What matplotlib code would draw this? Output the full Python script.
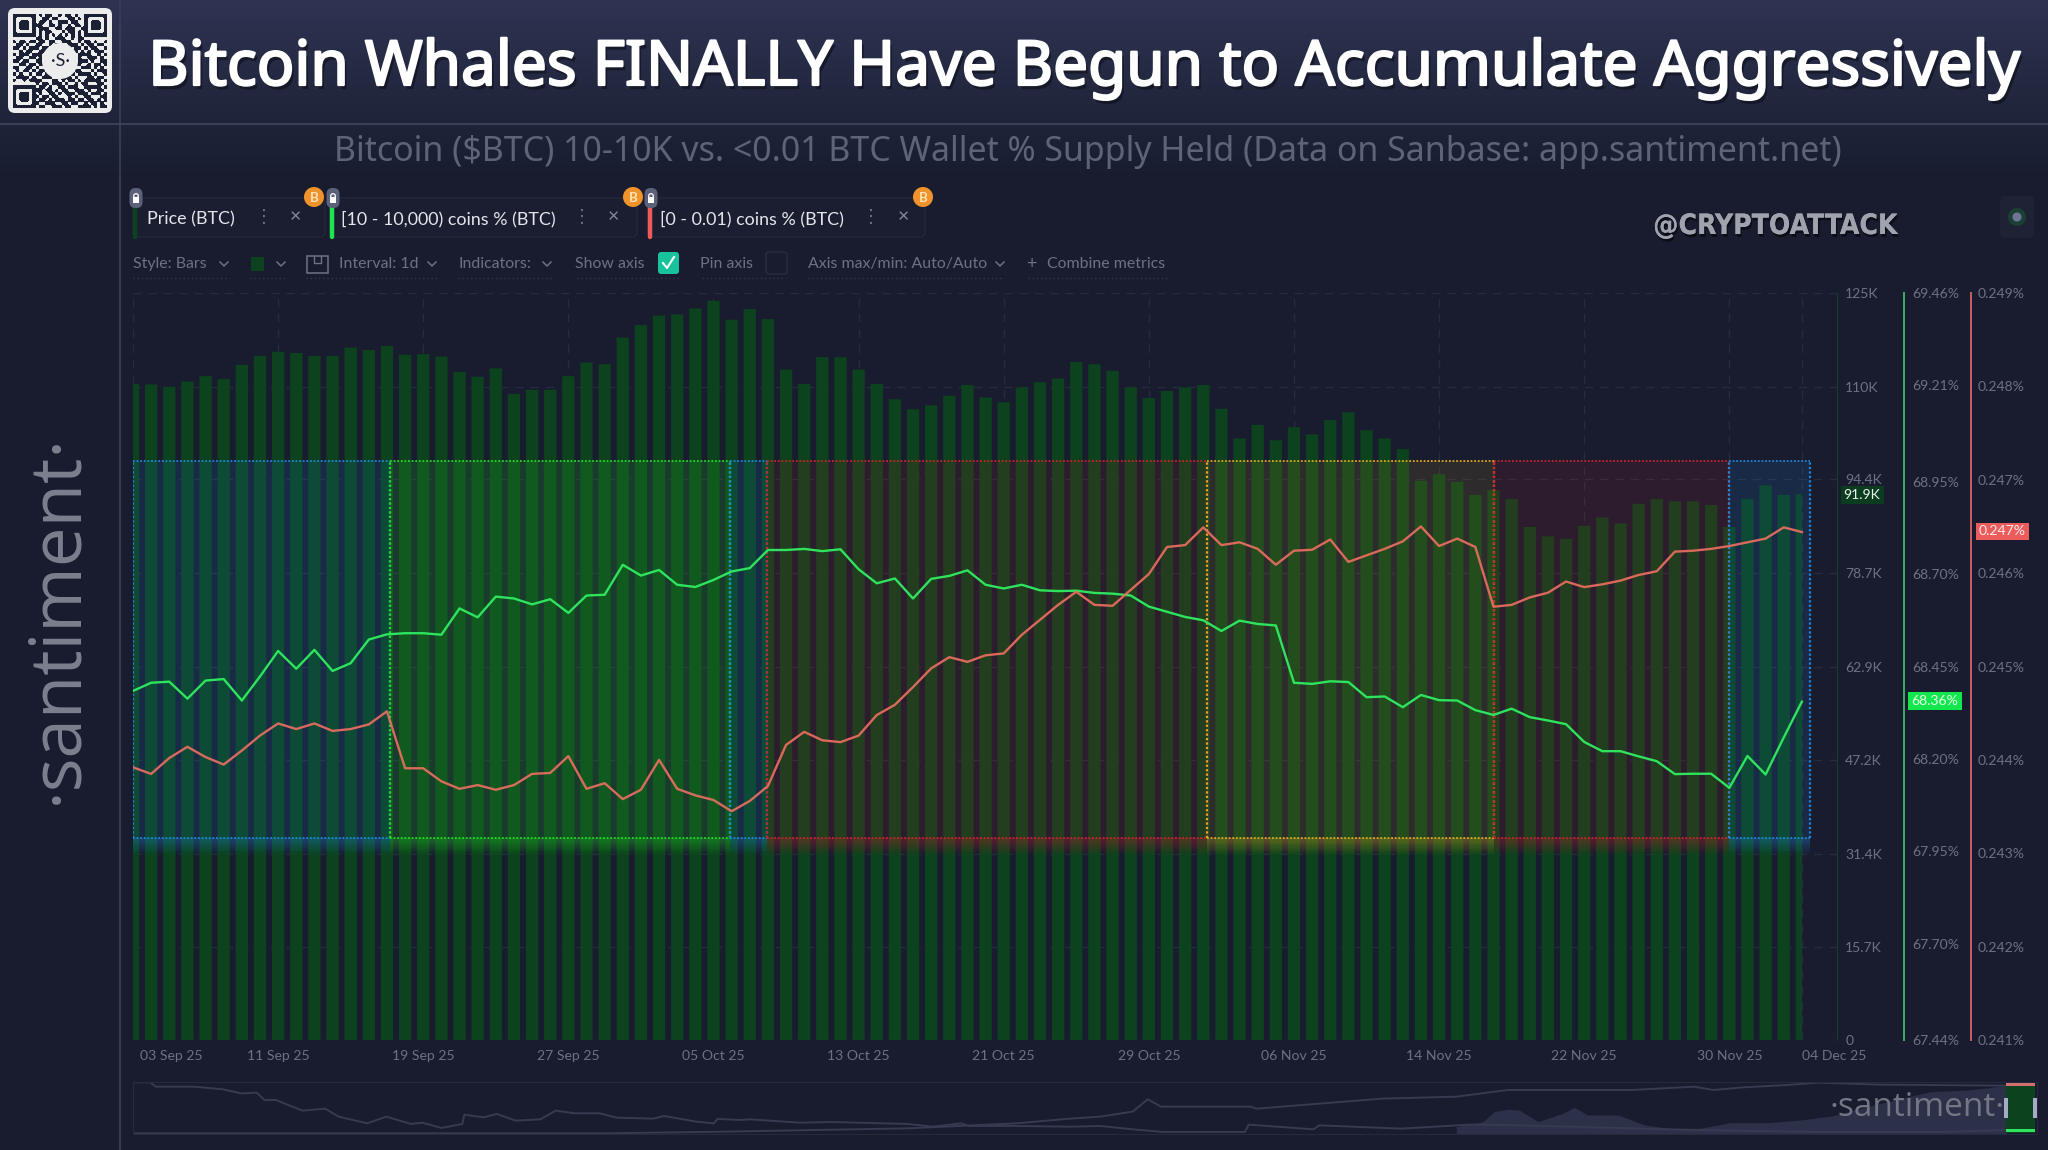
"""
santiment chart: bitcoin whales vs small wallets
"""
import numpy as np
import matplotlib
matplotlib.use('Agg')
import matplotlib.pyplot as plt
import matplotlib.patheffects as pe
from matplotlib.patches import Rectangle, Circle, FancyBboxPatch
from matplotlib.transforms import ScaledTranslation

plt.rcParams['font.family'] = ['Lato', 'DejaVu Sans']

# daily price, thousand dollars, 3 Sep to 4 Dec 2025
price = [110.5, 110.4, 110.0, 110.9, 111.8, 111.3, 113.7, 115.2, 115.9, 115.7,
         115.2, 115.2, 116.6, 116.2, 116.9, 115.4, 115.5, 115.1, 112.5, 111.7,
         113.1, 108.8, 109.5, 109.5, 111.8, 114.1, 113.8, 118.3, 120.4, 122.0,
         122.2, 123.2, 124.5, 121.3, 123.1, 121.4, 112.9, 110.5, 115.0, 115.0,
         112.9, 110.5, 107.9, 106.2, 106.9, 108.5, 110.3, 108.2, 107.4, 109.9,
         110.8, 111.4, 114.2, 113.8, 112.7, 109.9, 108.1, 109.3, 109.9, 110.3,
         106.3, 101.3, 103.6, 101.0, 103.2, 102.0, 104.4, 105.7, 102.7, 101.3,
         99.5, 94.2, 95.3, 94.0, 91.8, 92.6, 91.1, 86.4, 84.8, 84.4,
         86.6, 88.0, 87.0, 90.3, 91.1, 90.7, 90.7, 90.1, 86.4, 91.1,
         93.4, 91.8, 91.9]

# 10 - 10,000 coins, % of supply
whales = [68.384, 68.406, 68.409, 68.363, 68.412, 68.416, 68.358, 68.423, 68.492, 68.444,
          68.495, 68.438, 68.459, 68.523, 68.537, 68.540, 68.540, 68.536, 68.607, 68.583,
          68.639, 68.634, 68.618, 68.632, 68.595, 68.642, 68.644, 68.725, 68.696, 68.711,
          68.671, 68.665, 68.684, 68.707, 68.716, 68.765, 68.765, 68.768, 68.762, 68.767,
          68.713, 68.675, 68.688, 68.634, 68.687, 68.695, 68.710, 68.671, 68.661, 68.671,
          68.656, 68.654, 68.655, 68.649, 68.647, 68.642, 68.612, 68.598, 68.584, 68.575,
          68.546, 68.574, 68.565, 68.561, 68.406, 68.403, 68.410, 68.408, 68.367, 68.369,
          68.340, 68.373, 68.359, 68.358, 68.332, 68.319, 68.336, 68.313, 68.304, 68.294,
          68.246, 68.221, 68.221, 68.207, 68.194, 68.159, 68.160, 68.160, 68.122, 68.208,
          68.158, 68.258, 68.355]

# 0 - 0.01 coins, % of supply
shrimps = [0.24392, 0.24385, 0.24402, 0.24414, 0.24403, 0.24395, 0.24410, 0.24426, 0.24439, 0.24433,
           0.24439, 0.24431, 0.24433, 0.24438, 0.24452, 0.24391, 0.24391, 0.24377, 0.24369, 0.24373,
           0.24368, 0.24373, 0.24385, 0.24386, 0.24404, 0.24369, 0.24375, 0.24358, 0.24368, 0.24400,
           0.24369, 0.24362, 0.24357, 0.24345, 0.24356, 0.24372, 0.24416, 0.24430, 0.24421, 0.24419,
           0.24426, 0.24448, 0.24459, 0.24478, 0.24498, 0.24510, 0.24505, 0.24512, 0.24514, 0.24534,
           0.24550, 0.24566, 0.24580, 0.24566, 0.24565, 0.24582, 0.24599, 0.24628, 0.24630, 0.24649,
           0.24630, 0.24633, 0.24626, 0.24609, 0.24624, 0.24625, 0.24636, 0.24612, 0.24619, 0.24626,
           0.24634, 0.24650, 0.24629, 0.24637, 0.24628, 0.24564, 0.24566, 0.24574, 0.24579, 0.24591,
           0.24585, 0.24588, 0.24592, 0.24598, 0.24602, 0.24623, 0.24624, 0.24626, 0.24629, 0.24633,
           0.24637, 0.24649, 0.24644]

last_labels = ['91.9K', '68.36%', '0.247%']

date_days = [0, 8, 16, 24, 32, 40, 48, 56, 64, 72, 80, 88, 92]
date_labels = ['03 Sep 25', '11 Sep 25', '19 Sep 25', '27 Sep 25', '05 Oct 25', '13 Oct 25',
               '21 Oct 25', '29 Oct 25', '06 Nov 25', '14 Nov 25', '22 Nov 25', '30 Nov 25',
               '04 Dec 25']
price_ticks = [0, 15.7, 31.4, 47.2, 62.9, 78.7, 94.4, 110, 125.8]
price_labels = ['0', '15.7K', '31.4K', '47.2K', '62.9K', '78.7K', '94.4K', '110K', '125K']
whale_ticks = [67.44, 67.70, 67.95, 68.20, 68.45, 68.70, 68.95, 69.21, 69.46]
shrimp_ticks = [0.241, 0.242, 0.243, 0.244, 0.245, 0.246, 0.247, 0.248, 0.249]

# highlighted stretches: start day, end day, colour
region_start = [0, 14.15, 32.9, 34.95, 59.2, 75, 88]
region_end = [14.15, 32.9, 34.95, 59.2, 75, 88, 92.45]
region_color = ['#1f86d8', '#25d82a', '#1f86d8', '#c8232d', '#dfa820', '#c8232d', '#1f86d8']
region_alpha = [0.14, 0.16, 0.14, 0.12, 0.11, 0.12, 0.14]

# navigator lines, % of the strip both ways
nav_t1 = [0.1, 0.9, 1.2, 3.2, 4.7, 5.7, 6.5, 6.9, 7.5, 8.9, 10.1, 10.8, 12.3, 13.3, 14.6, 15.2,
          16.2, 17.3, 17.4, 18.4, 19.1, 20.1, 21.4, 22.2, 23.2, 24.5, 25.4, 27.3, 27.9, 29.6,
          30.5, 30.7, 31.9, 32.4, 35.0, 36.7, 40.7, 42.0, 43.5, 43.9, 46.4, 49.2, 50.8, 52.5,
          54.1, 58.4, 58.6, 62.0, 62.3, 66.6, 70.2, 72.2, 78.7, 82.0, 88.5, 95.1, 98.4]
nav_v1 = [99.4, 99.4, 91, 91, 86, 78, 79.5, 65.4, 65.4, 44.9, 48.7, 33.4, 20.5, 33.4, 19.3, 21.8,
          11.6, 19.3, 37.2, 32, 38.5, 25.7, 28.2, 44.9, 39.8, 39.8, 31.4, 29.5, 34.6, 23.7,
          20.5, 28.9, 27, 28.2, 21.8, 23.1, 19.3, 14.1, 20.5, 15.4, 15.4, 14.1, 15.4, 9,
          3.9, 3.9, 18, 9, 16.7, 10.3, 18, 17.3, 10.9, 7.7, 3.9, 3.9, 7.7]
nav_t2 = [0.1, 24.8, 31.1, 40.7, 46.4, 49.2, 50.8, 52.5, 53.3, 54.0, 58.7, 59.0, 65.6, 69.5,
          72.2, 78.7, 82.0, 83.0, 84.6, 86.9, 88.5, 91.8, 98.4]
nav_v2 = [1.3, 1.3, 4.5, 10.9, 20.5, 29.5, 33.4, 43, 66.7, 52.6, 52.6, 48.7, 68, 71.8,
          84.6, 84.6, 91, 84.6, 89.8, 94.3, 98.7, 94.9, 93]
nav_t3 = [69.5, 70.9, 71.5, 72.2, 72.8, 73.8, 75.1, 75.7, 76.4, 78.0, 79.4, 80.7, 82.3, 83.9,
          85.9, 87.6, 89.2, 91.8, 94.4, 96.4, 98.4]
nav_v3 = [14.1, 23.7, 43, 47.5, 46.2, 23.7, 39.8, 51.3, 36.6, 36.6, 17.3, 10.9, 10.9, 21.8,
          21.8, 27, 34.6, 59, 81.4, 84.6, 93]

qr_rows = ['11111110101100101101001111111', '10000010011011000110101000001',
           '10111010110100111011001011101', '10111011100110100101101011101',
           '10111010111001101110011011101', '10000010101100010110101000001',
           '11111110101010101010101111111', '00000001101001110010110000000',
           '10110110110110011100101101001', '01101001100101100111010110110',
           '11010111011000000101101011001', '00101100110000000011010101110',
           '10111011100000000000111100101', '01100110100000000000100111010',
           '11011001100000000000111010011', '00110110110000000001100101101',
           '11001101001000000010011101010', '01011010110110001101100010111',
           '10100101101011010010111101001', '01111010011100111101000110110',
           '10010111100011010110101111101', '00000001011011101001011000110',
           '11111110110100110111001111101', '10000011101101011001110100110',
           '10111010100110101110111011101', '10111011011011000101001100011',
           '10111010110101110110110110101', '10000011001110011011001011010',
           '11111110110011101100111101011']

BG = '#181c2e'
TXT = '#6c7183'
W, H = 2048, 1150
CX0, CX1, CY0, CY1 = 133, 1837, 293, 1040
PX_PER_DAY = 18.14


def chevron(ax, x, y, size=4, color='#6c7183'):
    ax.plot([x - size, x, x + size], [y - size / 2, y + size / 2, y - size / 2],
            color=color, lw=1.1)


def dotted(ax, x0, x1, y):
    ax.plot([x0, x1], [y, y], color='#33384c', lw=1, ls=(0, (1, 2)))


def lock(ax, x, y):
    ax.add_patch(FancyBboxPatch((x - 6.5, y - 10), 13, 20, boxstyle='round,pad=0,rounding_size=6',
                                fc='#5b6178', ec='none', zorder=3))
    ax.add_patch(Rectangle((x - 3, y - 1), 6, 6, fc='white', ec='none', zorder=3))
    ax.add_patch(Circle((x, y - 2), 2.3, fc='none', ec='white', lw=0.9, zorder=3))


def coin(ax, x, y):
    ax.add_patch(Circle((x, y), 10, fc='#f0932b', ec='none', zorder=3))
    ax.text(x, y + 0.5, 'B', color='#fde3b8', fontsize=9.5, fontweight='bold', ha='center', va='center', zorder=4)


def chip(ax, x0, x1, label, text_x, dots_x, cross_x, coin_x, bar_color):
    ax.add_patch(FancyBboxPatch((x0, 198), x1 - x0, 39, boxstyle='round,pad=0,rounding_size=5',
                                fc='#1a1e30', ec='#23283b', lw=1))
    ax.plot([x0 + 2, x0 + 2], [205, 237], color=bar_color, lw=3.2, solid_capstyle='round')
    lock(ax, x0 + 3, 198)
    ax.text(text_x, 219, label, color='#e4e6ec', fontsize=12.9, va='center')
    ax.text(dots_x, 217, '⋮', color='#6c7183', fontsize=13, ha='center', va='center', family='DejaVu Sans')
    ax.text(cross_x, 217, '×', color='#8a8fa0', fontsize=14, ha='center', va='center')
    coin(ax, coin_x, 197)


fig = plt.figure(figsize=(W / 100, H / 100), dpi=100)
fig.patch.set_facecolor(BG)

# background gradient of the header
under = fig.add_axes([0, 0, 1, 1], zorder=0)
under.axis('off')
grad = np.linspace(0, 1, 180).reshape(-1, 1)
top_col = np.array([0x2e, 0x34, 0x52]) / 255
low_col = np.array([0x18, 0x1c, 0x2e]) / 255
under.imshow(top_col + (low_col - top_col) * grad[:, :, None], extent=[0, W, 180, 0], aspect='auto')
under.set_xlim(0, W)
under.set_ylim(H, 0)

# main chart
ax = fig.add_axes([CX0 / W, 1 - CY1 / H, (CX1 - CX0) / W, (CY1 - CY0) / H], zorder=1)
ax.patch.set_alpha(0)
days = np.arange(len(price))
xmax = (CX1 - CX0) / PX_PER_DAY
ax.set_xlim(0, xmax)
ax.set_ylim(0, 125.8)
ax.grid(True, color='#272b3e', lw=1, ls=(0, (6, 5)), zorder=0)
ax.set_axisbelow(True)
bars = ax.bar(days, price, width=0.68, color='#0c421d', zorder=2)
keep = Rectangle((0, 0), 92, 125.8, transform=ax.transData)
for b in bars:
    b.set_clip_path(keep)
    b.set_snap(False)

box_lo, box_hi = 34.0, 97.5
for s, e, c, a in zip(region_start, region_end, region_color, region_alpha):
    ax.add_patch(Rectangle((s, box_lo), e - s, box_hi - box_lo, fc=c, alpha=a, ec='none', zorder=3))
    # soft glow under each box
    for g in range(14):
        ax.add_patch(Rectangle((s, box_lo - 0.2 * (g + 1)), e - s, 0.2, fc=c, ec='none',
                               alpha=0.36 * (1 - g / 14), zorder=3))
    ax.plot([s, e], [box_hi, box_hi], color=c, lw=1.3, ls=(0, (1, 1)), zorder=4)
    ax.plot([s, e], [box_lo, box_lo], color=c, lw=1.3, ls=(0, (1, 1)), zorder=4)
    ax.plot([s, s], [box_lo, box_hi], color=c, lw=1.6, ls=(0, (1, 1)), zorder=4)
    ax.plot([e, e], [box_lo, box_hi], color=c, lw=1.6, ls=(0, (1, 1)), zorder=4)

ax.set_xticks(date_days, date_labels)
ax.set_yticks(price_ticks, price_labels)
ax.tick_params(axis='x', length=0, pad=7, labelsize=10.1, labelcolor=TXT)
xlabels = ax.get_xticklabels()
xlabels[0].set_ha('left')
xlabels[0].set_transform(xlabels[0].get_transform() + ScaledTranslation(0.07, 0, fig.dpi_scale_trans))
xlabels[-1].set_ha('left')
for name in ['top', 'left', 'bottom']:
    ax.spines[name].set_visible(False)
ax.spines['right'].set_color('#15402a')

ax_w = ax.twinx()
ax_w.patch.set_alpha(0)
ax_w.set_ylim(whale_ticks[0], whale_ticks[-1])
ax_w.plot(days, whales, color='#2fe35f', lw=1.7, zorder=6)
ax_w.set_yticks(whale_ticks, ['%.2f%%' % v for v in whale_ticks])
ax_w.tick_params(axis='y', length=0, pad=6, labelsize=10.1, labelcolor=TXT)
ax_w.spines['right'].set_position(('outward', 48.2))
ax_w.spines['right'].set_color('#3fae66')
ax_w.spines['right'].set_linewidth(1.4)
for name in ['top', 'left', 'bottom']:
    ax_w.spines[name].set_visible(False)

ax_s = ax.twinx()
ax_s.patch.set_alpha(0)
ax_s.set_ylim(shrimp_ticks[0], shrimp_ticks[-1])
ax_s.plot(days, shrimps, color='#ee6f62', lw=1.7, alpha=0.9, zorder=6)
ax_s.set_yticks(shrimp_ticks, ['%.3f%%' % v for v in shrimp_ticks])
ax_s.tick_params(axis='y', length=0, pad=5, labelsize=10.1, labelcolor=TXT)
ax_s.spines['right'].set_position(('outward', 96.5))
ax_s.spines['right'].set_color('#c8605f')
ax_s.spines['right'].set_linewidth(1.4)
for name in ['top', 'left', 'bottom']:
    ax_s.spines[name].set_visible(False)

# twinx moved the price labels back to the left
ax.yaxis.tick_right()
ax.tick_params(axis='y', length=0, pad=6, labelsize=10.1, labelcolor=TXT)

# navigator strip
nav = fig.add_axes([133 / W, 1 - 1134 / H, (2037 - 133) / W, 52 / H], zorder=1)
nav.patch.set_alpha(0)
nav.set_xlim(0, 100)
nav.set_ylim(0, 100)
nav.set_xticks([])
nav.set_yticks([])
for s in nav.spines.values():
    s.set_color('#252a3d')
nav.fill_between(nav_t3, nav_v3, 0, color='#2c3149', lw=0)
nav.plot(nav_t1, nav_v1, color='#363b52', lw=1.4)
nav.plot(nav_t2, nav_v2, color='#363b52', lw=1.4)

# everything around the chart, in pixels
top = fig.add_axes([0, 0, 1, 1], zorder=5)
top.axis('off')
top.patch.set_alpha(0)

top.plot([120, 120], [0, 1150], color='#3a3f58', lw=1.2)
top.plot([0, 2048], [124, 124], color='#3f4560', lw=1.2)

top.add_patch(FancyBboxPatch((8, 8), 104, 105, boxstyle='round,pad=0,rounding_size=7',
                             fc='#ececec', ec='none', zorder=1))
qr = np.array([[int(c) for c in row] for row in qr_rows])
top.imshow(qr, cmap=matplotlib.colors.ListedColormap(['#ececec', '#1c2034']),
           extent=[13, 107, 108, 14], aspect='auto', interpolation='bilinear', zorder=2)
top.add_patch(Circle((60, 61), 18, fc='#ececec', ec='none', zorder=3))
top.text(60, 61, '·S·', color='#1c2034', fontsize=13, ha='center', va='center', zorder=4)

title = top.text(1083, 69, 'Bitcoin Whales FINALLY Have Begun to Accumulate Aggressively',
                 color='white', fontsize=44.7, family='Noto Sans', ha='center', va='center')
title.set_path_effects([pe.withSimplePatchShadow(offset=(2, -3), shadow_rgbFace='#0c0e1a', alpha=0.6),
                        pe.withStroke(linewidth=1.6, foreground='white')])
top.text(1088, 152, 'Bitcoin ($BTC) 10-10K vs. <0.01 BTC Wallet % Supply Held (Data on Sanbase: app.santiment.net)',
         color='#5e6377', fontsize=24.4, family='Noto Sans', ha='center', va='center')

top.text(58, 618, '·santiment·', color='#7c808e', fontsize=51, rotation=90,
         ha='center', va='center', family='Open Sans')

chip(top, 133, 325, 'Price (BTC)', 147, 264, 295, 314, '#0c421d')
chip(top, 330, 637, '[10 - 10,000) coins % (BTC)', 341, 582, 613, 633, '#1fe34f')
chip(top, 648, 925, '[0 - 0.01) coins % (BTC)', 660, 871, 903, 923, '#f05a5a')

row_y = 264
for label, x in [('Style: Bars', 133), ('Interval: 1d', 339), ('Indicators:', 458), ('Show axis', 575),
                 ('Pin axis', 700), ('Axis max/min: Auto/Auto', 808), ('Combine metrics', 1047)]:
    top.text(x, row_y, label, color=TXT, fontsize=11.4, va='center')
for x in [224, 281, 432, 547, 1000]:
    chevron(top, x, row_y)
for x0, x1 in [(133, 229), (250, 286), (306, 438), (458, 553), (577, 680), (702, 786), (808, 1004), (1028, 1168)]:
    dotted(top, x0, x1, 278)
top.add_patch(Rectangle((251, 257), 13, 14, fc='#0c421d', ec='none'))
top.add_patch(Rectangle((307, 256), 21, 17, fc='none', ec=TXT, lw=1.1))
top.plot([314, 314, 321, 321], [256, 263, 263, 256], color=TXT, lw=1)
top.add_patch(FancyBboxPatch((658, 252), 21, 22, boxstyle='round,pad=0,rounding_size=3', fc='#18c29c', ec='none'))
top.plot([663, 667, 674], [263, 268, 257], color='white', lw=1.5)
top.add_patch(FancyBboxPatch((766, 252), 21, 22, boxstyle='round,pad=0,rounding_size=3', fc=BG, ec='#282d40', lw=1))
top.text(1031, row_y, '+', color=TXT, fontsize=13, ha='center', va='center')

top.text(1775, 226, '@CRYPTOATTACK', color='#a0a3ad', fontsize=20.2, fontweight='bold',
         fontstretch='condensed', family='DejaVu Sans', ha='center', va='center',
         path_effects=[pe.withSimplePatchShadow(offset=(1, -2), shadow_rgbFace='#06070d', alpha=0.7), pe.Normal()])
top.add_patch(FancyBboxPatch((2000, 196), 34, 42, boxstyle='round,pad=0,rounding_size=5', fc='#1e2234', ec='none'))
top.add_patch(Circle((2017, 217), 9, fc='#1b3f33', ec='none'))
top.add_patch(Circle((2017, 217), 4.5, fc='#6f7396', ec='none'))

# last value badges
top.add_patch(Rectangle((1841, 486), 43, 18, fc='#0c3c20', ec='none'))
top.text(1862, 495, last_labels[0], color='#e8f3ea', fontsize=10.1, ha='center', va='center')
top.add_patch(Rectangle((1908, 692), 54, 18, fc='#12e84e', ec='none'))
top.text(1935, 701, last_labels[1], color='#e8ffe9', fontsize=10.1, ha='center', va='center')
top.add_patch(Rectangle((1976, 523), 53, 17, fc='#ec5c5c', ec='none'))
top.text(2002, 531, last_labels[2], color='#ffeaea', fontsize=10.1, ha='center', va='center')

# navigator handle and small logo
top.add_patch(Rectangle((2006, 1083), 29, 50, fc='#0c421d', ec='none'))
top.add_patch(Rectangle((2006, 1083), 29, 3, fc='#d07070', ec='none'))
top.add_patch(Rectangle((2006, 1129), 29, 3, fc='#2fe35f', ec='none'))
top.add_patch(Rectangle((2004, 1098), 4, 20, fc='#a4abc4', ec='none'))
top.add_patch(Rectangle((2033, 1098), 4, 20, fc='#a4abc4', ec='none'))
top.text(1917, 1107, '·santiment·', color='#737784', fontsize=24, family='Open Sans',
         ha='center', va='center')

top.set_xlim(0, W)
top.set_ylim(H, 0)

fig.savefig('out.png', dpi=100, facecolor=fig.get_facecolor())
